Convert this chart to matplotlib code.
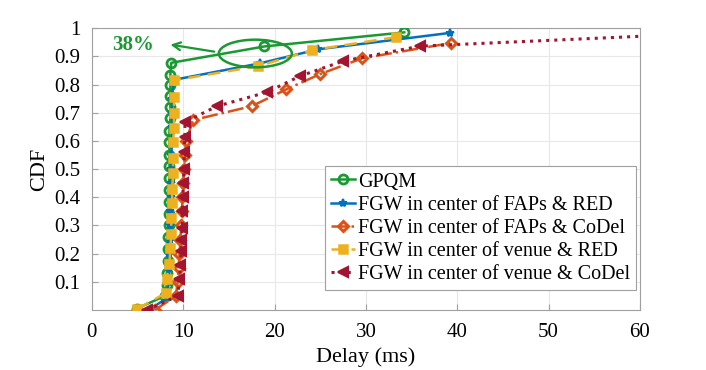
import numpy as np
import matplotlib.pyplot as plt
from matplotlib.patches import Ellipse

# CDF samples
gpqm_delay = [4.9, 8.0, 8.2, 8.2, 8.3, 8.3, 8.3, 8.4, 8.4, 8.4, 8.4, 8.5, 8.5, 8.5,
              8.5, 8.5, 8.6, 8.6, 8.6, 8.6, 8.6, 8.7, 18.9, 34.2]
gpqm_cdf = [0.005, 0.05, 0.09, 0.13, 0.175, 0.215, 0.26, 0.30, 0.34, 0.385, 0.425,
            0.47, 0.51, 0.55, 0.595, 0.635, 0.68, 0.72, 0.76, 0.80, 0.835, 0.877,
            0.935, 0.985]

faps_red_delay = [6.5, 8.3, 8.4, 8.5, 8.5, 8.6, 8.6, 8.6, 8.7, 8.7, 8.7, 8.7, 8.8,
                  8.8, 8.8, 8.8, 8.9, 18.4, 24.8, 39.2]
faps_red_cdf = [0.005, 0.045, 0.1, 0.15, 0.2, 0.25, 0.3, 0.35, 0.4, 0.45, 0.5, 0.55,
                0.6, 0.65, 0.7, 0.75, 0.816, 0.875, 0.925, 0.983]

faps_codel_delay = [6.9, 9.2, 9.4, 9.5, 9.6, 9.7, 9.8, 9.9, 9.9, 10.0, 10.1, 10.2,
                    10.3, 11.1, 17.5, 21.3, 25.0, 29.6, 39.3]
faps_codel_cdf = [0.0, 0.05, 0.1, 0.15, 0.2, 0.25, 0.3, 0.35, 0.4, 0.45, 0.5, 0.55,
                  0.6, 0.674, 0.723, 0.783, 0.837, 0.893, 0.947]

venue_red_delay = [5.0, 8.1, 8.2, 8.5, 8.6, 8.7, 8.7, 8.8, 8.8, 8.9, 8.9, 8.9, 9.0,
                   9.0, 9.0, 9.0, 18.2, 24.1, 33.3]
venue_red_cdf = [0.005, 0.06, 0.11, 0.165, 0.22, 0.27, 0.325, 0.38, 0.43, 0.485,
                 0.54, 0.595, 0.645, 0.70, 0.755, 0.815, 0.865, 0.922, 0.968]

venue_codel_delay = [6.0, 9.4, 9.6, 9.7, 9.8, 9.8, 9.9, 9.9, 10.0, 10.0, 10.1, 10.1,
                     10.2, 10.2, 13.7, 19.2, 22.8, 27.5, 35.9, 80]
venue_codel_cdf = [0.0, 0.05, 0.11, 0.16, 0.21, 0.25, 0.29, 0.35, 0.40, 0.45, 0.50,
                   0.56, 0.615, 0.667, 0.723, 0.773, 0.83, 0.883, 0.936, 1.0]

labels = ['GPQM', 'FGW in center of FAPs & RED', 'FGW in center of FAPs & CoDel',
          'FGW in center of venue & RED', 'FGW in center of venue & CoDel']

plt.rcParams['font.family'] = ['Liberation Serif', 'DejaVu Serif']

fig = plt.figure(figsize=(7.06, 3.7), dpi=100)
ax = fig.add_axes([0.130, 0.162, 0.7765, 0.762])

green = '#1a9933'
blue = '#0072bd'
orange = '#d95319'
yellow = '#edb120'
darkred = '#a2142f'

ax.plot(gpqm_delay, gpqm_cdf, '-o', color=green, lw=1.8, ms=6.5, mfc='none', mew=2,
        label=labels[0], zorder=3)
ax.plot(faps_red_delay, faps_red_cdf, '-*', color=blue, lw=1.8, ms=6, mew=1.5,
        label=labels[1], zorder=4)
ax.plot(faps_codel_delay, faps_codel_cdf, '-.D', color=orange, lw=1.8, ms=5.5,
        mfc='none', mew=2.2, label=labels[2], zorder=4)
ax.plot(venue_red_delay, venue_red_cdf, '--s', color=yellow, lw=1.8, ms=5.5, mew=1.8,
        mfc=yellow, dashes=(5, 3), label=labels[3], zorder=5)
ax.plot(venue_codel_delay, venue_codel_cdf, ':<', color=darkred, lw=2.2, ms=7.5,
        mew=1.5, label=labels[4], zorder=5)

# annotation: ellipse + arrow + text
ax.add_patch(Ellipse((17.9, 0.91), 8.0, 0.098, fill=False, ec=green, lw=1.8, zorder=6))
ax.annotate('', xy=(8.3, 0.943), xytext=(13.7, 0.915),
            arrowprops=dict(arrowstyle='->', color=green, lw=1.6, mutation_scale=14))
ax.text(4.5, 0.94, '38%', color=green, fontsize=15, fontweight='bold',
        ha='center', va='center')

ax.set_xlim(0, 60)
ax.set_ylim(0, 1)
ax.set_xticks(np.arange(0, 61, 10))
ax.set_yticks(np.arange(0.1, 1.01, 0.1))
ax.set_yticklabels(['0.1', '0.2', '0.3', '0.4', '0.5', '0.6', '0.7', '0.8', '0.9', '1'])
ax.tick_params(direction='in', labelsize=15, color='#a0a0a0', length=4)
ax.tick_params(axis='y', pad=8)
ax.tick_params(axis='x', pad=9)
ax.grid(True, color='#e8e8e8', lw=0.8)
ax.set_axisbelow(True)
for s in ax.spines.values():
    s.set_color('#a0a0a0')
ax.set_xlabel('Delay (ms)', fontsize=16, labelpad=4)
ax.set_ylabel('CDF', fontsize=16, labelpad=4)

leg = ax.legend(loc='lower right', bbox_to_anchor=(0.993, 0.071), borderaxespad=0,
                fontsize=14.5, handlelength=1.2, handletextpad=0.15, labelspacing=0.2,
                borderpad=0.3, fancybox=False, framealpha=1, edgecolor='#a0a0a0')
leg.get_frame().set_linewidth(0.8)

fig.savefig('out.png', dpi=100)
